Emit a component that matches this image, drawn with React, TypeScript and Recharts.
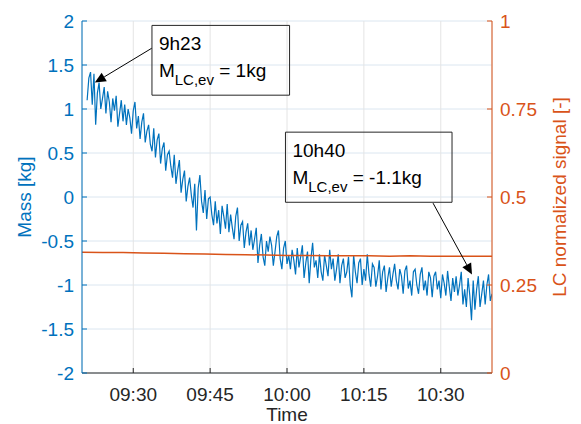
import React from 'react';
import { ComposedChart, Line, XAxis, YAxis, CartesianGrid, ReferenceArea, ReferenceLine } from 'recharts';

// time axis is minutes after 09:20
const MASS_START = 1;
const MASS_STEP = 1 / 3;
const massValues = [
  1.10, 1.35, 1.42, 1.05, 1.40, 0.82, 1.18, 1.30, 1.00, 1.12, 1.25, 0.95,
  1.20, 1.08, 0.85, 1.12, 0.98, 1.15, 0.80, 0.95, 1.10, 0.86, 1.05, 0.82,
  1.00, 0.90, 0.72, 0.98, 1.08, 0.78, 0.92, 0.66, 0.85, 0.95, 0.62, 0.75,
  0.82, 0.60, 0.52, 0.78, 0.45, 0.65, 0.72, 0.38, 0.55, 0.62, 0.30, 0.48,
  0.52, 0.35, 0.22, 0.48, 0.15, 0.30, 0.42, 0.05, 0.20, 0.30, -0.05, 0.12,
  0.22, 0.02, -0.12, 0.15, -0.38, 0.10, 0.25, -0.05, -0.18, 0.08, -0.25, -0.02,
  0.00, -0.20, -0.32, -0.05, -0.30, -0.15, -0.42, -0.10, -0.22, -0.36, -0.08, -0.40,
  -0.20, -0.35, -0.48, -0.22, -0.12, -0.50, -0.32, -0.28, -0.58, -0.40, -0.30, -0.55,
  -0.38, -0.60, -0.48, -0.35, -0.75, -0.55, -0.42, -0.68, -0.78, -0.50, -0.62, -0.45,
  -0.55, -0.78, -0.62, -0.45, -0.38, -0.70, -0.82, -0.58, -0.50, -0.76, -0.66, -0.82,
  -0.60, -0.72, -0.88, -0.58, -0.80, -0.68, -0.55, -0.92, -0.75, -0.62, -0.98, -0.70,
  -0.52, -0.80, -0.72, -0.92, -0.65, -0.85, -0.95, -0.66, -0.78, -0.90, -0.60, -0.82,
  -0.70, -0.95, -0.82, -0.65, -0.98, -0.78, -0.70, -0.92, -0.85, -0.68, -1.00, -1.14,
  -0.66, -0.85, -0.98, -0.75, -0.70, -1.00, -0.82, -0.95, -0.65, -0.88, -1.02, -0.76,
  -0.80, -1.02, -0.90, -0.72, -1.05, -0.85, -0.78, -1.08, -0.92, -0.80, -1.02, -0.88,
  -0.76, -0.95, -1.05, -0.82, -0.90, -1.10, -0.84, -0.78, -1.04, -0.95, -1.12, -0.85,
  -0.82, -1.00, -1.10, -0.88, -0.80, -1.06, -0.95, -1.12, -0.85, -0.92, -1.14, -0.90,
  -0.85, -1.05, -0.95, -1.15, -0.88, -0.98, -1.12, -0.84, -1.02, -1.18, -0.92, -1.08,
  -0.90, -1.12, -1.00, -0.85, -1.22, -1.05, -1.25, -0.92, -1.12, -1.40, -0.95, -1.28,
  -1.05, -0.90, -1.25, -1.10, -0.95, -1.22, -1.00, -0.88, -1.18, -1.10,
];

const LC_START = 0;
const LC_STEP = 4;
const lcValues = [
  0.343, 0.342, 0.342, 0.341, 0.340, 0.339, 0.338, 0.337, 0.336, 0.335, 0.334,
  0.334, 0.333, 0.333, 0.333, 0.332, 0.333, 0.332, 0.332, 0.332, 0.332,
];

const timeTicks = [10, 25, 40, 55, 70];
const timeTickLabels = ['09:30', '09:45', '10:00', '10:15', '10:30'];
const massTicks = [-2, -1.5, -1, -0.5, 0, 0.5, 1, 1.5, 2];
const lcTicks = [0, 0.25, 0.5, 0.75, 1];

const noteTimes = ['9h23', '10h40'];
const noteMasses = ['1kg', '-1.1kg'];

const massData = massValues.map((m, i) => ({ t: MASS_START + i * MASS_STEP, mass: m }));
const lcData = lcValues.map((v, i) => ({ t: LC_START + i * LC_STEP, lc: v }));

const BLUE = '#0072BD';
const ORANGE = '#D95319';
const DARK = '#262626';
const FONT = 'Liberation Sans, Arial, Helvetica, sans-serif';
const FS = 19;

const LeftTick = (props: any) => {
  const { x, y, payload } = props;
  const ax = x + 8;
  return (
    <g>
      <line x1={ax} x2={ax + 5} y1={y} y2={y} stroke={BLUE} />
      <text x={x} y={y} dy="0.36em" textAnchor="end" fill={BLUE} fontSize={FS} fontFamily={FONT}>
        {String(payload.value)}
      </text>
    </g>
  );
};

const RightTick = (props: any) => {
  const { x, y, payload } = props;
  const ax = x - 8;
  return (
    <g>
      <line x1={ax} x2={ax - 5} y1={y} y2={y} stroke={ORANGE} />
      <text x={x} y={y} dy="0.36em" textAnchor="start" fill={ORANGE} fontSize={FS} fontFamily={FONT}>
        {String(payload.value)}
      </text>
    </g>
  );
};

const BottomTick = (props: any) => {
  const { x, y, payload, index } = props;
  const ay = y - 14;
  return (
    <g>
      <line x1={x} x2={x} y1={ay} y2={ay - 5} stroke={DARK} />
      <text x={x} y={y} dy="0.72em" textAnchor="middle" fill={DARK} fontSize={FS} fontFamily={FONT}>
        {timeTickLabels[index] ?? payload.value}
      </text>
    </g>
  );
};

const TopTick = (props: any) => {
  const { x, y } = props;
  return <line x1={x} x2={x} y1={y} y2={y + 5} stroke={DARK} />;
};

const Arrow = (p: any) => {
  const { x1, y1, x2, y2 } = p;
  const a = Math.atan2(y2 - y1, x2 - x1);
  const len = 11;
  const w = 5;
  const bx = x2 - len * Math.cos(a);
  const by = y2 - len * Math.sin(a);
  const pts = `${x2},${y2} ${bx + w * Math.sin(a)},${by - w * Math.cos(a)} ${bx - w * Math.sin(a)},${by + w * Math.cos(a)}`;
  return (
    <g>
      <line x1={x1} y1={y1} x2={bx} y2={by} stroke="#000" strokeWidth={1} />
      <polygon points={pts} fill="#000" />
    </g>
  );
};

const noteLabel = (i: number) => (props: any) => {
  const vb = props.viewBox;
  if (!vb) return null;
  const x = vb.x + 7;
  const y = vb.y;
  return (
    <g fontFamily={FONT} fill="#000">
      <text x={x} y={y + 25} fontSize={FS}>{noteTimes[i]}</text>
      <text x={x} y={y + 52} fontSize={FS}>
        M
        <tspan fontSize={15} dy={8}>LC,ev</tspan>
        <tspan fontSize={FS} dy={-8}>{` = ${noteMasses[i]}`}</tspan>
      </text>
    </g>
  );
};

export default function App() {
  return (
    <div style={{ position: 'absolute', left: 0, top: 0, background: '#fff' }}>
      <ComposedChart width={581} height={424} margin={{ top: 21, right: 0, bottom: 0, left: 0 }}>
        <CartesianGrid yAxisId="left" vertical={false} stroke="#dbe6f0" />
        <CartesianGrid yAxisId="left" horizontal={false} stroke="#e4e4e4" />
        <XAxis
          dataKey="t"
          type="number"
          domain={[0, 80]}
          ticks={timeTicks}
          allowDataOverflow
          height={51}
          tickSize={0}
          tickMargin={14}
          tick={<BottomTick />}
          axisLine={{ stroke: DARK }}
          label={{
            content: (p: any) => {
              const vb = p.viewBox;
              if (!vb) return null;
              return (
                <text x={vb.x + vb.width / 2} y={vb.y + 48} textAnchor="middle" fill={DARK} fontSize={FS} fontFamily={FONT}>
                  Time
                </text>
              );
            },
          }}
        />
        <XAxis
          xAxisId="top"
          orientation="top"
          dataKey="t"
          type="number"
          domain={[0, 80]}
          ticks={timeTicks}
          height={0}
          tickSize={0}
          tickMargin={0}
          tick={<TopTick />}
          axisLine={{ stroke: DARK }}
        />
        <YAxis
          yAxisId="left"
          width={82}
          domain={[-2, 2]}
          ticks={massTicks}
          tickSize={0}
          tickMargin={8}
          tick={<LeftTick />}
          axisLine={{ stroke: BLUE }}
          label={{
            content: (p: any) => {
              const vb = p.viewBox;
              if (!vb) return null;
              const cx = vb.x + 24;
              const cy = vb.y + vb.height / 2;
              return (
                <text x={cx} y={cy} transform={`rotate(-90, ${cx}, ${cy})`} textAnchor="middle" dy="0.35em" fill={BLUE} fontSize={FS} fontFamily={FONT}>
                  Mass [kg]
                </text>
              );
            },
          }}
        />
        <YAxis
          yAxisId="right"
          orientation="right"
          width={89}
          domain={[0, 1]}
          ticks={lcTicks}
          tickSize={0}
          tickMargin={8}
          tick={<RightTick />}
          axisLine={{ stroke: ORANGE }}
          label={{
            content: (p: any) => {
              const vb = p.viewBox;
              if (!vb) return null;
              const cx = vb.x + 67;
              const cy = vb.y + vb.height / 2;
              return (
                <text x={cx} y={cy} transform={`rotate(-90, ${cx}, ${cy})`} textAnchor="middle" dy="0.35em" fill={ORANGE} fontSize={FS} fontFamily={FONT}>
                  LC normalized signal [-]
                </text>
              );
            },
          }}
        />
        <Line
          yAxisId="left"
          data={massData}
          dataKey="mass"
          stroke={BLUE}
          strokeWidth={1.2}
          dot={false}
          isAnimationActive={false}
        />
        <Line
          yAxisId="right"
          data={lcData}
          dataKey="lc"
          stroke={ORANGE}
          strokeWidth={1.5}
          dot={false}
          isAnimationActive={false}
        />
        <ReferenceArea
          yAxisId="left"
          x1={13.65}
          x2={40.5}
          y1={1.157}
          y2={1.95}
          fill="none"
          stroke={DARK}
          strokeWidth={1}
          ifOverflow="visible"
          label={{ content: noteLabel(0) }}
        />
        <ReferenceArea
          yAxisId="left"
          x1={39.7}
          x2={72.2}
          y1={-0.06}
          y2={0.737}
          fill="none"
          stroke={DARK}
          strokeWidth={1}
          ifOverflow="visible"
          label={{ content: noteLabel(1) }}
        />
        <ReferenceLine
          yAxisId="left"
          segment={[{ x: 13.6, y: 1.69 }, { x: 2.5, y: 1.3 }]}
          ifOverflow="visible"
          shape={Arrow}
        />
        <ReferenceLine
          yAxisId="left"
          segment={[{ x: 68.5, y: -0.07 }, { x: 76.1, y: -0.88 }]}
          ifOverflow="visible"
          shape={Arrow}
        />
      </ComposedChart>
    </div>
  );
}
